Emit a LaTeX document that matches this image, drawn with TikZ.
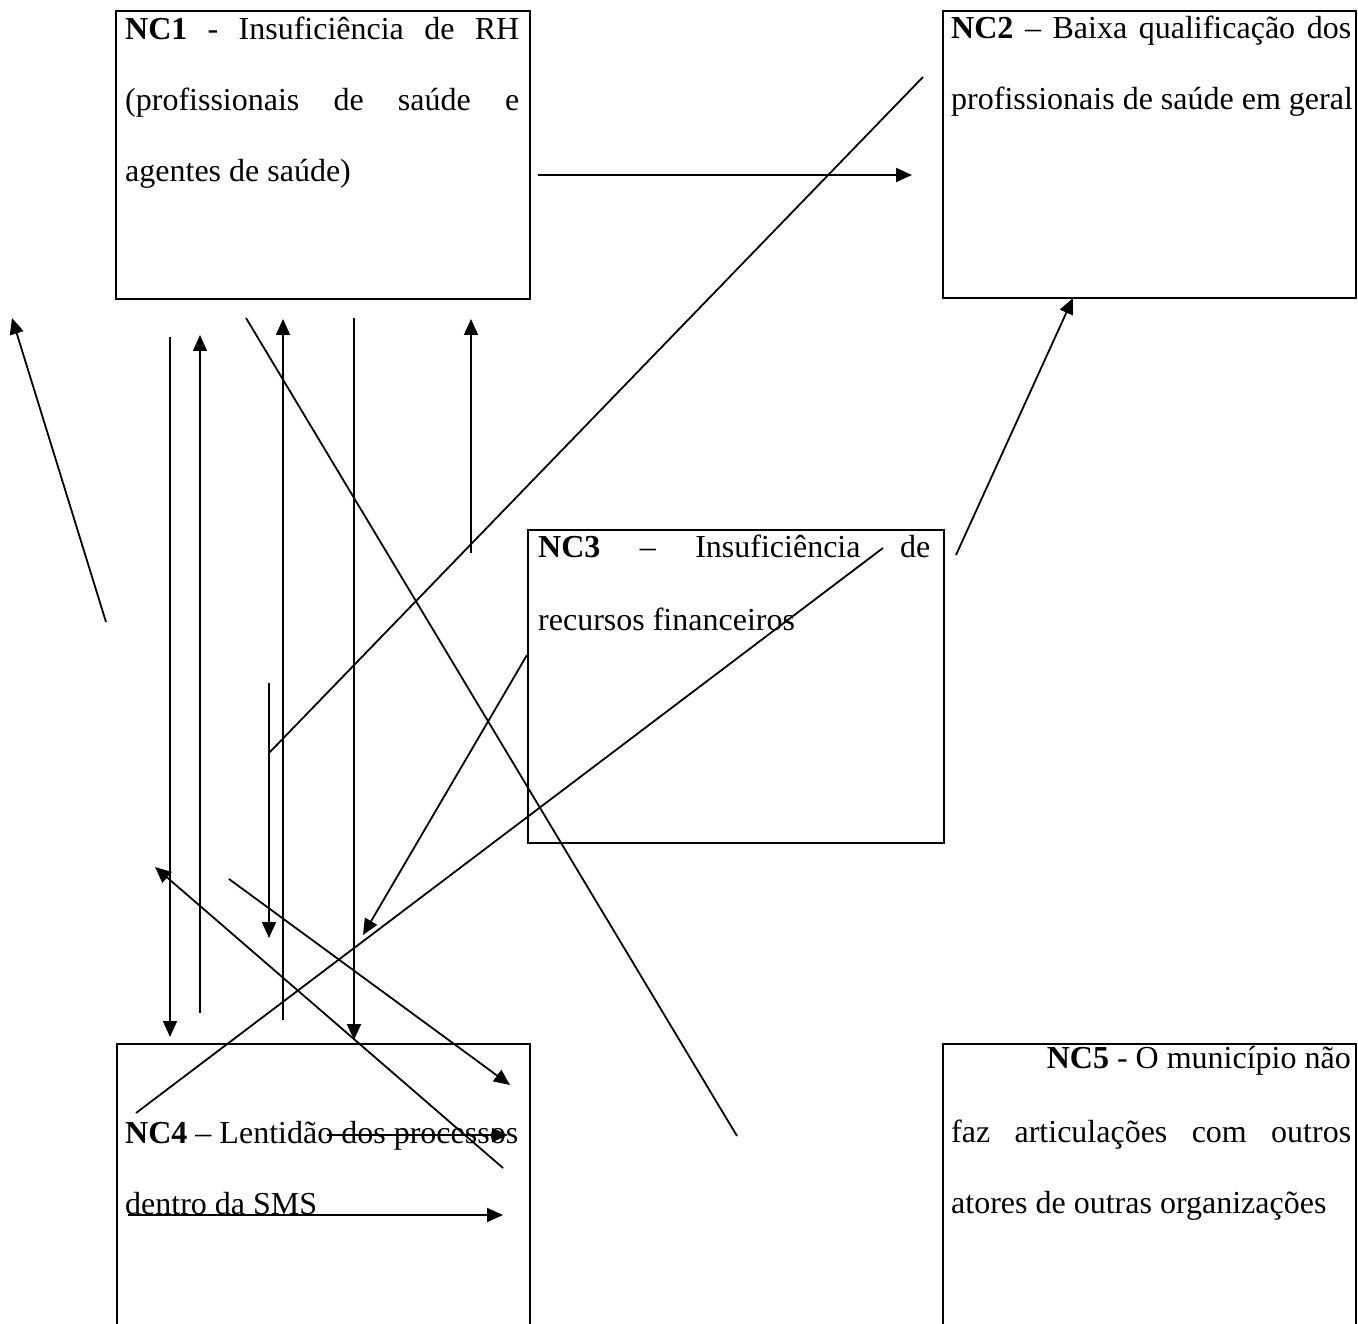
\documentclass[tikz,border=0pt]{standalone}
\usepackage{fontspec}
\setmainfont{Liberation Serif}
\usetikzlibrary{arrows.meta}
\begin{document}
\begin{tikzpicture}[x=1pt,y=-1pt,
  box/.style={draw, line width=2pt, rectangle, inner sep=0pt, anchor=north west},
  ln/.style={anchor=base west, inner sep=0pt, font=\fontsize{32}{38}\selectfont},
  lnr/.style={ln, anchor=base east},
  link/.style={line width=1.8pt},
  arr/.style={link, -{Triangle[length=16pt,width=14pt]}}]
\clip (0,0) rectangle (1358,1324);

% problem boxes
\node[box, minimum width=414pt, minimum height=288pt] (nc1) at (115,10) {};
\node[box, minimum width=413pt, minimum height=287pt] (nc2) at (942,10) {};
\node[box, minimum width=416pt, minimum height=313pt] (nc3) at (527,529) {};
\node[box, minimum width=413pt, minimum height=330pt] (nc4) at (116,1043) {};
\node[box, minimum width=413pt, minimum height=330pt] (nc5) at (942,1043) {};

% box texts, one node per line
\node[ln] (nc1a) at (125,40)  {\makebox[394pt][s]{\textbf{NC1} - Insuficiência de RH}};
\node[ln] (nc1b) at (125,111) {\makebox[394pt][s]{(profissionais de saúde e}};
\node[ln] (nc1c) at (125,182) {agentes de saúde)};

\node[ln] (nc2a) at (951,39)  {\makebox[400pt][s]{\textbf{NC2} – Baixa qualificação dos}};
\node[ln] (nc2b) at (951,110) {profissionais de saúde em geral};

\node[ln] (nc3a) at (538,557) {\makebox[392pt][s]{\textbf{NC3} – Insuficiência de}};
\node[ln] (nc3b) at (538,630) {recursos financeiros};

\node[ln] (nc4a) at (125,1143) {\makebox[393pt][s]{\textbf{NC4} – Lentidão dos processos}};
\node[ln] (nc4b) at (125,1214) {dentro da SMS};

\node[lnr] (nc5a) at (1351,1068) {\textbf{NC5} - O município não};
\node[ln]  (nc5b) at (951,1142)  {\makebox[400pt][s]{faz articulações com outros}};
\node[ln]  (nc5c) at (951,1213)  {atores de outras organizações};

% connector end points
\coordinate (a1s) at (538,175);  \coordinate (a1e) at (912,175);
\coordinate (l2s) at (923,77);   \coordinate (l2e) at (269,753);
\coordinate (a3s) at (269,683);  \coordinate (a3e) at (269,938);
\coordinate (a4s) at (106,622);  \coordinate (a4e) at (12,318);
\coordinate (a5s) at (170,337);  \coordinate (a5e) at (170,1037);
\coordinate (a6s) at (200,1013); \coordinate (a6e) at (200,335);
\coordinate (l7s) at (246,318);  \coordinate (l7e) at (737,1136);
\coordinate (a8s) at (283,1020); \coordinate (a8e) at (283,319);
\coordinate (a9s) at (354,318);  \coordinate (a9e) at (354,1040);
\coordinate (a10s) at (471,553); \coordinate (a10e) at (471,319);
\coordinate (a11s) at (956,555); \coordinate (a11e) at (1073,298);
\coordinate (a12s) at (527,655); \coordinate (a12e) at (363,935);
\coordinate (l13s) at (883,548); \coordinate (l13e) at (136,1113);
\coordinate (a14s) at (229,879); \coordinate (a14e) at (510,1085);
\coordinate (a15s) at (503,1168);\coordinate (a15e) at (155,867);
\coordinate (a16s) at (128,1215);\coordinate (a16e) at (503,1215);
\coordinate (a17s) at (327,1135);\coordinate (a17e) at (508,1135);

% connectors
\draw[arr]  (a1s) -- (a1e);
\draw[link] (l2s) -- (l2e);
\draw[arr]  (a3s) -- (a3e);
\draw[arr]  (a4s) -- (a4e);
\draw[arr]  (a5s) -- (a5e);
\draw[arr]  (a6s) -- (a6e);
\draw[link] (l7s) -- (l7e);
\draw[arr]  (a8s) -- (a8e);
\draw[arr]  (a9s) -- (a9e);
\draw[arr]  (a10s) -- (a10e);
\draw[arr]  (a11s) -- (a11e);
\draw[arr]  (a12s) -- (a12e);
\draw[link] (l13s) -- (l13e);
\draw[arr]  (a14s) -- (a14e);
\draw[arr]  (a15s) -- (a15e);
\draw[arr]  (a16s) -- (a16e);
\draw[arr]  (a17s) -- (a17e);
\end{tikzpicture}
\end{document}
